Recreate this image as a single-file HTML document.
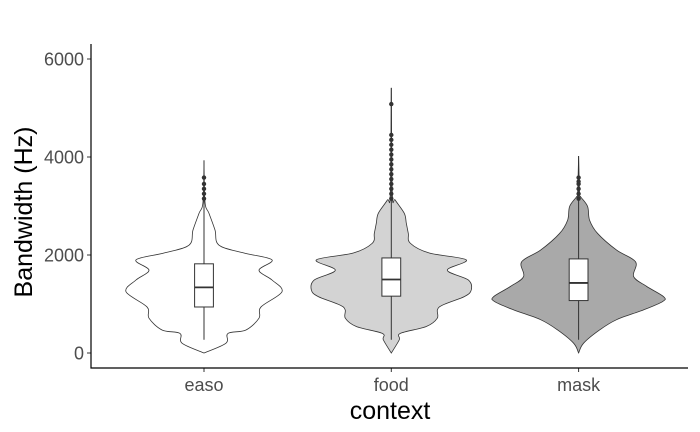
<!DOCTYPE html>
<html><head><meta charset="utf-8"><style>
body{margin:0;background:#fff;}
svg{display:block;font-family:"Liberation Sans",Arial,sans-serif;}
</style></head><body>
<svg id="chart" width="700" height="432"></svg>
<script>
const categories=["easo","food","mask"];
const fills=["#ffffff","#d3d3d3","#a9a9a9"];
const yTicks=[0,2000,4000,6000];
const easoHz=[0,200,400,470,710,940,1250,1490,1690,1900,2040,2200,2510,2850,3080,3930];
const easoDen=[0,22,24,42,55,57,78,68,55,68,40,15,11,5,1,0];
const foodHz=[0,270,400,540,710,940,1150,1290,1490,1690,1900,2040,2240,2440,2650,2850,3120,3260,5410];
const foodDen=[0,8,9,35,46,48,73,80,77,56,75,38,19,17,15,13,4,1,0];
const maskHz=[0,200,470,680,880,1050,1150,1360,1560,1860,2100,2440,2710,2990,3190,3260,4020];
const maskDen=[0,5,21,38,65,84,85,68,55,57,38,19,11,9,2,1,0];
const q1=[939,1160,1070], med=[1340,1500,1430], q3=[1820,1940,1920];
const mins=[270,270,270], maxs=[3930,5410,4020];
const easoOut=[3150,3250,3350,3450,3580];
const foodOut=[3150,3250,3350,3450,3550,3650,3750,3850,3950,4050,4150,4250,4350,4450,5080];
const maskOut=[3150,3250,3350,3450,3500,3580];
const hzs=[easoHz,foodHz,maskHz], dens=[easoDen,foodDen,maskDen], outs=[easoOut,foodOut,maskOut];

const NS="http://www.w3.org/2000/svg";
const svg=document.getElementById("chart");
const L=91,R=688,T=44,B=368;
const y=v=>353-v/2000*98;
const x=i=>204+i*187.3;
function mk(t,a,p){const e=document.createElementNS(NS,t);for(const k in a)e.setAttribute(k,a[k]);(p||svg).appendChild(e);return e;}
function spline(P){
  let d="";
  for(let i=0;i<P.length-1;i++){
    const p0=P[Math.max(0,i-1)],p1=P[i],p2=P[i+1],p3=P[Math.min(P.length-1,i+2)];
    const c1=[p1[0]+(p2[0]-p0[0])/6,p1[1]+(p2[1]-p0[1])/6];
    const c2=[p2[0]-(p3[0]-p1[0])/6,p2[1]-(p3[1]-p1[1])/6];
    d+=` C${c1[0]},${c1[1]} ${c2[0]},${c2[1]} ${p2[0]},${p2[1]}`;
  }
  return d;
}

categories.forEach((c,i)=>{
  const cx=x(i),H=hzs[i],D=dens[i];
  const right=H.map((h,j)=>[cx+D[j],y(h)]);
  const left=H.map((h,j)=>[cx-D[j],y(h)]).reverse();
  const d=`M${right[0][0]},${right[0][1]}`+spline(right)+spline(left)+"Z";
  const v=mk("path",{d:d,fill:fills[i],stroke:"#333",'stroke-width':0.8});
  
  
  const w=mk("line",{x1:cx,x2:cx,y1:y(mins[i]),y2:y(maxs[i]),stroke:"#333",'stroke-width':1});
  
  
  outs[i].forEach(o=>{
    const p=mk("circle",{cx:cx,cy:y(o),r:2.2,fill:"#333"});
    
    
  });
  const b=mk("rect",{x:cx-9.4,y:y(q3[i]),width:18.8,height:y(q1[i])-y(q3[i]),fill:"#fff",stroke:"#333",'stroke-width':1});
  
  
  const m=mk("line",{x1:cx-9.4,x2:cx+9.4,y1:y(med[i]),y2:y(med[i]),stroke:"#333",'stroke-width':1.8});
  
  
  const tk=mk("line",{x1:cx,x2:cx,y1:B,y2:B+4,stroke:"#333"});
  
  
  const tl=mk("text",{x:cx,y:391,'text-anchor':'middle','font-size':18,fill:"#4d4d4d"});
  tl.textContent=c;
  
  
});
yTicks.forEach(t=>{
  const tk=mk("line",{x1:L-4,x2:L,y1:y(t),y2:y(t),stroke:"#333"});
  
  
  const tl=mk("text",{x:84,y:y(t)+6.5,'text-anchor':'end','font-size':18,fill:"#4d4d4d"});
  tl.textContent=t;
  
  
});
const ax=mk("polyline",{points:`${L},${T} ${L},${B} ${R},${B}`,fill:"none",stroke:"#000",'stroke-width':1.2});


const xt=mk("text",{x:390,y:419,'text-anchor':'middle','font-size':25,fill:"#000"});
xt.textContent="context";


const yt=mk("text",{x:0,y:0,'text-anchor':'middle','font-size':25,fill:"#000",transform:"translate(32,212) rotate(-90)"});
yt.textContent="Bandwidth (Hz)";


</script>
</body></html>
